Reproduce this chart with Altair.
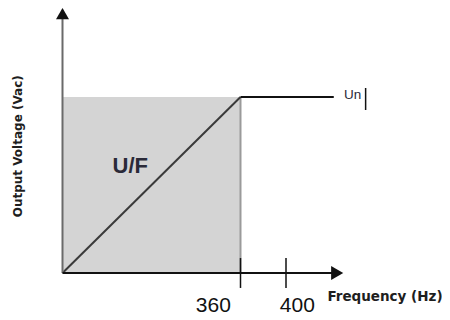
import altair as alt
import pandas as pd

# ---- scale anchors (Hz on x, per-unit voltage on y) ----
x_domain = [0, 360, 400]
x_range = [54.5, 232.5, 278]
y_domain = [0, 1]
y_range = [265, 89]

# ---- chart content ----
corner_hz = 360          # end of U/F ramp
un_level = 1.0           # nominal voltage Un
flat_end_hz = 442        # end of the constant-voltage line
tick_hz = [360, 400]
tick_labels = ["360", "400"]
tick_label_hz = [305, 410]
tick_half = 0.085
tick_label_y = -0.185

x_axis_end_hz = 445
y_axis_end = 1.474

xs = alt.Scale(domain=x_domain, range=x_range, nice=False, zero=False)
ys = alt.Scale(domain=y_domain, range=y_range, nice=False, zero=False)


def X(f="x"):
    return alt.X(f"{f}:Q", scale=xs, axis=None)


def Y(f="y"):
    return alt.Y(f"{f}:Q", scale=ys, axis=None)


# shaded U/F region
rect_df = pd.DataFrame({"x": [0], "x2": [corner_hz], "y": [0], "y2": [un_level]})
region = alt.Chart(rect_df).mark_rect(fill="#d4d4d4").encode(
    x=X(), x2="x2:Q", y=Y(), y2="y2:Q"
)
edge = alt.Chart(rect_df).mark_rule(color="#9a9a9a", strokeWidth=2).encode(
    x=X("x2"), y=Y(), y2="y2:Q"
)

# segments: ramp and flat line
seg_df = pd.DataFrame({
    "x": [0, corner_hz],
    "y": [0, un_level],
    "x2": [corner_hz, flat_end_hz],
    "y2": [un_level, un_level],
    "c": ["#3a3a3a", "#111111"],
})
segs = alt.Chart(seg_df).mark_rule(strokeWidth=2).encode(
    x=X(), y=Y(), x2="x2:Q", y2="y2:Q", color=alt.Color("c:N", scale=None)
)

# axes
ax_df = pd.DataFrame({
    "x": [0, 0], "y": [0, 0], "x2": [0, x_axis_end_hz], "y2": [y_axis_end, 0],
    "c": ["#6a6a6a", "#111111"],
})
axes = alt.Chart(ax_df).mark_rule(strokeWidth=2).encode(
    x=X(), y=Y(), x2="x2:Q", y2="y2:Q", color=alt.Color("c:N", scale=None)
)
arr_up = alt.Chart(pd.DataFrame({"x": [0], "y": [y_axis_end]})).mark_point(
    shape="triangle-up", filled=True, color="#111111", size=169, opacity=1
).encode(x=X(), y=Y())
arr_right = alt.Chart(pd.DataFrame({"x": [x_axis_end_hz], "y": [0]})).mark_point(
    shape="triangle-right", filled=True, color="#111111", size=196, opacity=1
).encode(x=X(), y=Y())

# ticks
tick_df = pd.DataFrame({"x": tick_hz, "y": [-tick_half] * 2, "y2": [tick_half] * 2})
ticks = alt.Chart(tick_df).mark_rule(color="#111111", strokeWidth=1.5).encode(
    x=X(), y=Y(), y2="y2:Q"
)
tl_df = pd.DataFrame({"x": tick_label_hz, "y": [tick_label_y] * 2, "t": tick_labels})
tick_text = alt.Chart(tl_df).mark_text(
    font="Liberation Sans", fontSize=21, color="#111111", baseline="middle", align="center"
).encode(x=X(), y=Y(), text="t:N")

# annotations
ann_df = pd.DataFrame({
    "x": [436.4, 451, 137],
    "y": [-0.159, 1.01, 0.608],
    "t": ["Frequency (Hz)", "Un", "U/F"],
})
freq = alt.Chart(ann_df.iloc[[0]]).mark_text(
    font="DejaVu Sans", fontWeight="bold", fontSize=13.5, color="#1e1e1e",
    align="left", baseline="alphabetic"
).encode(x=X(), y=Y(), text="t:N")
un = alt.Chart(ann_df.iloc[[1]]).mark_text(
    font="Liberation Sans", fontSize=13.5, color="#2a2a3a", align="left", baseline="middle"
).encode(x=X(), y=Y(), text="t:N")
uf = alt.Chart(ann_df.iloc[[2]]).mark_text(
    font="Liberation Sans", fontWeight="bold", fontSize=22, color="#2a2a38",
    align="center", baseline="middle"
).encode(x=X(), y=Y(), text="t:N")
ylab = alt.Chart(pd.DataFrame({"x": [-90.5], "y": [0.72], "t": ["Output Voltage (Vac)"]})).mark_text(
    font="DejaVu Sans", fontWeight="bold", fontSize=12, color="#1e1e1e",
    angle=270, align="center", baseline="middle"
).encode(x=X(), y=Y(), text="t:N")

# text cursor after "Un"
cur_df = pd.DataFrame({"x": [470], "y": [0.926], "y2": [1.051]})
cursor = alt.Chart(cur_df).mark_rule(color="#111111", strokeWidth=1.5).encode(
    x=X(), y=Y(), y2="y2:Q"
)

chart = alt.layer(
    region, edge, segs, axes, arr_up, arr_right, ticks, tick_text,
    freq, un, uf, ylab, cursor
).properties(
    width=434, height=312, padding=0, autosize="none", background="white"
).configure_view(stroke=None)

chart.save("out.html", embed_options={"renderer": "svg", "actions": False})
